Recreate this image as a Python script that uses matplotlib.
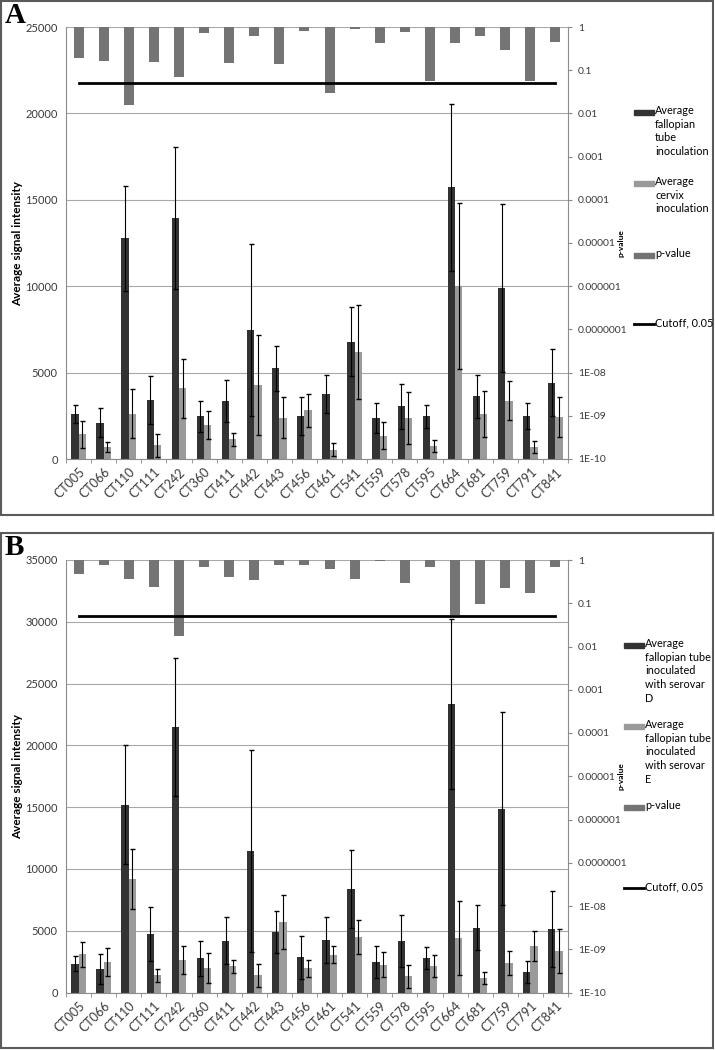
import numpy as np
import matplotlib.pyplot as plt
from matplotlib.patches import Rectangle
from matplotlib.lines import Line2D

plt.rcParams['font.family'] = ['Lato', 'DejaVu Sans']

# Categories (shared by both panels)
cats = ['CT005', 'CT066', 'CT110', 'CT111', 'CT242', 'CT360', 'CT411', 'CT442', 'CT443', 'CT456',
        'CT461', 'CT541', 'CT559', 'CT578', 'CT595', 'CT664', 'CT681', 'CT759', 'CT791', 'CT841']

# Panel A: fallopian tube vs cervix inoculation
a_tube = [2620, 2100, 12770, 3400, 13960, 2470, 3360, 7440, 5240, 2470,
          3780, 6780, 2370, 3050, 2470, 15720, 3620, 9910, 2510, 4420]
a_tube_err = [520, 830, 3030, 1390, 4100, 910, 1200, 4980, 1310, 1090,
              1100, 2000, 870, 1310, 670, 4850, 1230, 4860, 750, 1960]
a_cervix = [1430, 670, 2620, 790, 4080, 1950, 1130, 4300, 2400, 2820,
            540, 6200, 1350, 2370, 770, 10000, 2620, 3360, 670, 2430]
a_cervix_err = [790, 290, 1420, 650, 1680, 810, 400, 2900, 1160, 970,
                360, 2700, 790, 1490, 340, 4800, 1330, 1130, 350, 1140]
a_pval = [0.19, 0.16, 0.016, 0.155, 0.071, 0.71, 0.15, 0.63, 0.14, 0.82,
          0.03, 0.88, 0.43, 0.75, 0.057, 0.43, 0.62, 0.29, 0.057, 0.45]

# Panel B: serovar D vs serovar E (fallopian tube)
b_d = [2320, 1890, 15210, 4760, 21490, 2760, 4190, 11430, 4890, 2840,
       4240, 8380, 2460, 4190, 2780, 23330, 5240, 14890, 1680, 5140]
b_d_err = [620, 1240, 4800, 2190, 5560, 1400, 1920, 8180, 1730, 1730,
           1840, 3160, 1320, 2110, 870, 6880, 1840, 7770, 890, 3080]
b_e = [3080, 2460, 9160, 1400, 2620, 1950, 2110, 1380, 5730, 1950,
       3050, 4490, 2240, 1320, 2160, 4380, 1160, 2380, 3760, 3350]
b_e_err = [1000, 1110, 2430, 510, 1160, 1220, 540, 920, 2190, 700,
           680, 1350, 1000, 920, 870, 3000, 460, 970, 1240, 1780]
b_pval = [0.47, 0.77, 0.36, 0.24, 0.0175, 0.68, 0.41, 0.34, 0.77, 0.76,
          0.63, 0.36, 0.95, 0.30, 0.68, 0.053, 0.094, 0.22, 0.17, 0.68]

cutoff = 0.05
p_ticks = [1, 0.1, 0.01, 0.001, 0.0001, 0.00001, 0.000001, 0.0000001, 1e-8, 1e-9, 1e-10]
p_labels = ['1', '0.1', '0.01', '0.001', '0.0001', '0.00001', '0.000001', '0.0000001',
            '1E-08', '1E-09', '1E-10']

W, H = 715, 1050
DARK, LIGHT, PCOL = '#333333', '#9a9a9a', '#747474'
TXT = '#3a3a3a'

fig = plt.figure(figsize=(W / 100, H / 100), dpi=100)


def fx(x):
    return x / W


def fy(y):
    return 1 - y / H


def panel(top, bottom, ymax, s1, e1, s2, e2, pval, letter, box, legend_x, legend_items):
    ax = fig.add_axes([fx(66), fy(bottom), fx(568) - fx(66), fy(top) - fy(bottom)])
    x = np.arange(len(cats))
    ax.bar(x - 0.145, s1, width=0.29, color=DARK, zorder=2)
    ax.bar(x + 0.145, s2, width=0.29, color=LIGHT, zorder=2)
    ax.errorbar(x - 0.145, s1, yerr=e1, fmt='none', ecolor='black', elinewidth=0.8,
                capsize=1.8, capthick=1, zorder=3)
    ax.errorbar(x + 0.145, s2, yerr=e2, fmt='none', ecolor='black', elinewidth=0.8,
                capsize=1.8, capthick=1, zorder=3)
    ax.set_xlim(-0.5, len(cats) - 0.5)
    ax.set_ylim(0, ymax)
    yt = np.arange(0, ymax + 1, 5000)
    ax.set_yticks(yt, [str(v) for v in yt])
    ax.yaxis.grid(True, color='#a8a8a8', lw=0.8)
    ax.set_axisbelow(True)
    ax.set_xticks(x, cats, rotation=45, ha='right', rotation_mode='anchor')
    ax.set_xticks(np.arange(len(cats) + 1) - 0.5, minor=True)
    ax.tick_params(axis='x', which='major', length=0, pad=5, labelsize=9, labelcolor=TXT)
    ax.tick_params(axis='x', which='minor', length=3, color='#888888')
    ax.tick_params(axis='y', length=0, pad=6, labelsize=8, labelcolor=TXT)
    for s in ['top', 'right']:
        ax.spines[s].set_visible(False)
    for s in ['left', 'bottom']:
        ax.spines[s].set_color('#8c8c8c')

    ax2 = ax.twinx()
    ax2.set_yscale('log')
    pv = np.array(pval)
    ax2.bar(x, 1 - pv, bottom=pv, width=0.4, color=PCOL, zorder=2)
    ax2.plot(x, [cutoff] * len(cats), color='black', lw=2, zorder=3)
    ax2.set_ylim(1e-10, 1)
    ax2.set_yticks(p_ticks, p_labels)
    ax2.yaxis.set_minor_locator(plt.NullLocator())
    ax2.tick_params(axis='y', length=3, color='#888888', pad=4, labelsize=7.5, labelcolor=TXT)
    for s in ['top', 'left', 'bottom']:
        ax2.spines[s].set_visible(False)
    ax2.spines['right'].set_color('#8c8c8c')

    mid = (top + bottom) / 2
    fig.text(fx(18), fy(mid), 'Average signal intensity', rotation=90, ha='center', va='center',
             fontsize=8.5, fontweight='bold', color='black')
    fig.text(fx(621), fy(mid), 'p-value', rotation=90, ha='center', va='center',
             fontsize=6, fontweight='bold', color='black')

    fig.text(fx(5), fy(box[1] + 1), letter, ha='left', va='top', fontsize=21,
             fontweight='bold', family='Liberation Serif')
    fig.add_artist(Rectangle((fx(1), fy(box[3])), fx(712), fy(box[1]) - fy(box[3]),
                             transform=fig.transFigure, fill=False, ec='#5a5a5a', lw=1.5))

    # legend drawn entry by entry
    for kind, color, label, yc in legend_items:
        x0, x1 = legend_x - 21, legend_x - 1
        if kind == 'bar':
            fig.add_artist(Rectangle((fx(x0), fy(yc + 2.5)), fx(x1) - fx(x0), 5 / H,
                                     transform=fig.transFigure, color=color))
        else:
            fig.add_artist(Line2D([fx(x0), fx(x1)], [fy(yc), fy(yc)], transform=fig.transFigure,
                                  color=color, lw=2))
        fig.text(fx(legend_x), fy(yc - 7), label, ha='left', va='top', fontsize=7.8,
                 linespacing=1.3, color='black')


panel(27, 459, 25000, a_tube, a_tube_err, a_cervix, a_cervix_err, a_pval, 'A', (1, 1, 713, 515), 655,
      [('bar', DARK, 'Average\nfallopian\ntube\ninoculation', 112),
       ('bar', LIGHT, 'Average\ncervix\ninoculation', 183),
       ('bar', PCOL, 'p-value', 255),
       ('line', 'black', 'Cutoff, 0.05', 324)])

panel(560, 992.5, 35000, b_d, b_d_err, b_e, b_e_err, b_pval, 'B', (1, 533, 713, 1048), 645,
      [('bar', DARK, 'Average\nfallopian tube\ninoculated\nwith serovar\nD', 645),
       ('bar', LIGHT, 'Average\nfallopian tube\ninoculated\nwith serovar\nE', 726),
       ('bar', PCOL, 'p-value', 807),
       ('line', 'black', 'Cutoff, 0.05', 888)])

fig.savefig('out.png', dpi=100)
